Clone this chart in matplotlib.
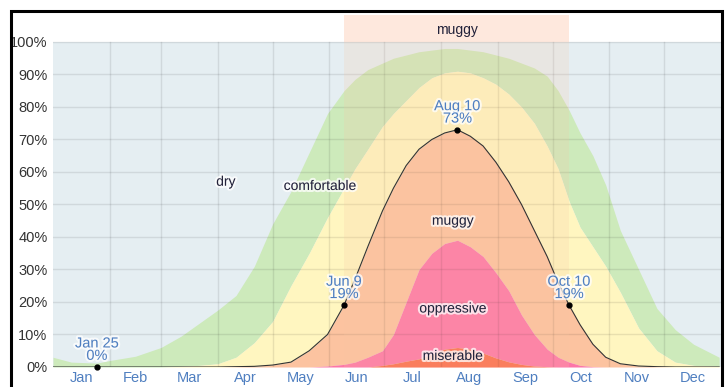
import numpy as np
import matplotlib.pyplot as plt
import matplotlib.patheffects as pe
from matplotlib.patches import Rectangle

plt.rcParams['font.family'] = ['Liberation Sans', 'DejaVu Sans']

# day of year (0 = Jan 1) and cumulative % of time at or above each comfort level
days = [0, 10, 24, 31, 45, 59, 70, 80, 90, 100, 110, 120, 130, 140, 150, 159, 165,
        172, 180, 186, 193, 200, 207, 214, 221, 228, 235, 242, 249, 256, 263, 270,
        276, 282, 288, 295, 302, 310, 320, 330, 340, 350, 364]
comfortable = [3, 1.5, 1.2, 2, 3.3, 6, 9.5, 13.5, 17.5, 22, 31, 44, 54, 66, 78, 85, 88.5,
               91.5, 93.5, 95, 96, 97, 97.5, 98, 98, 97.5, 97, 96, 95, 93.5, 92, 89.5,
               85, 79, 72, 65, 56, 42, 30, 18, 11.5, 7, 3]
humid = [0, 0, 0, 0, 0, 0, 0.2, 0.5, 1, 3, 7.5, 14, 25, 35, 46, 55, 61,
         67, 74, 78, 82, 86, 89, 90.5, 91, 90.5, 89, 87, 84, 80, 75, 68,
         61, 51, 43, 37, 31, 23, 12, 5, 1.5, 0.5, 0.2]
muggy = [0, 0, 0, 0, 0, 0, 0, 0, 0, 0.1, 0.2, 0.6, 1.5, 5, 10, 19, 27,
         37, 48, 55, 62, 67, 70, 72, 73, 71, 68, 63, 57, 50, 42, 34,
         26, 19, 13, 7, 3, 1, 0.3, 0.1, 0, 0, 0]
oppressive = [0, 0, 0, 0, 0, 0, 0, 0, 0, 0, 0, 0, 0, 0, 0.3, 0.8, 1.5,
              3, 5, 10, 20, 30, 35, 38, 39, 37, 34, 29, 23.5, 16, 10, 5.5,
              3, 1.5, 0.5, 0.1, 0, 0, 0, 0, 0, 0, 0]
miserable = [0, 0, 0, 0, 0, 0, 0, 0, 0, 0, 0, 0, 0, 0, 0, 0, 0,
             0, 0.5, 1, 1.8, 2.5, 4, 5.5, 6, 5.5, 4.3, 2.8, 1.6, 0.8, 0.3, 0.1,
             0, 0, 0, 0, 0, 0, 0, 0, 0, 0, 0]

months = ['Jan', 'Feb', 'Mar', 'Apr', 'May', 'Jun', 'Jul', 'Aug', 'Sep', 'Oct', 'Nov', 'Dec']
month_len = [31, 28, 31, 30, 31, 30, 31, 31, 30, 31, 30, 31]

ann_labels = ['Jan 25', 'Jun 9', 'Aug 10', 'Oct 10']
ann_days = [24, 159, 221, 282]
muggy_start, muggy_end = 159, 282

d = np.array(days)
month_start = np.concatenate([[0], np.cumsum(month_len)[:-1]])
month_mid = month_start + np.array(month_len) / 2

fig = plt.figure(figsize=(7.25, 3.87), dpi=100)
ax = fig.add_axes([53 / 725, 1 - 367 / 387, 668 / 725, 352 / 387])
ymax = 108.3
ax.set_xlim(0, 365)
ax.set_ylim(0, ymax)

ax.axhspan(0, 100, color='#e5eef2', zorder=0, lw=0)
layers = [(comfortable, humid, '#cdeabb'), (humid, muggy, '#fff6c0'),
          (muggy, oppressive, '#fcc3a0'), (oppressive, miserable, '#fd75a8'),
          (miserable, np.zeros(len(d)), '#fb6d4c')]
for top, bot, col in layers:
    ax.fill_between(d, bot, top, color=col, lw=0, zorder=1)

# grid on top of the bands
for v in range(10, 101, 10):
    ax.plot([0, 365], [v, v], color='black', alpha=0.09, lw=1, zorder=2)
for m in month_start[1:]:
    ax.plot([m, m], [0, 100], color='black', alpha=0.09, lw=1, zorder=2)

# muggy season
ax.axvspan(muggy_start, muggy_end, ymin=0, ymax=100 / ymax, color='#f9c6a2', alpha=0.2, lw=0, zorder=3)
ax.axvspan(muggy_start, muggy_end, ymin=100 / ymax, ymax=1, color='#fdbf9f', alpha=0.35, lw=0, zorder=3)

ax.plot(d, muggy, color='#333333', lw=0.8, zorder=4)

halo = [pe.withStroke(linewidth=3, foreground='white', alpha=0.75)]
txt_col = '#22223a'
blue = '#4f7fc0'

for lbl, day in zip(ann_labels, ann_days):
    val = muggy[days.index(day)]
    ax.plot(day, val, 'o', color='black', ms=3.5, zorder=6, clip_on=False)
    ax.annotate(f"{lbl}\n{val:.0f}%", (day, val), xytext=(0, 3), textcoords='offset points',
                ha='center', va='bottom', color=blue, fontsize=10.5, linespacing=0.85,
                path_effects=halo, zorder=7)

ax.text((muggy_start + muggy_end) / 2, 103.7, 'muggy', ha='center', va='center',
        color=txt_col, fontsize=10, zorder=7)
for s, x, y in [('dry', 94.5, 57), ('comfortable', 146, 55.7), ('muggy', 218.5, 45),
                ('oppressive', 218.5, 18), ('miserable', 218.5, 3.4)]:
    ax.text(x, y, s, ha='center', va='center', color=txt_col, fontsize=10,
            path_effects=halo, zorder=7)

ax.set_yticks(range(0, 101, 10))
ax.set_yticklabels([f"{v}%" for v in range(0, 101, 10)], color='#333333', fontsize=10.5)
ax.set_xticks(month_mid)
ax.set_xticklabels(months, color=blue, fontsize=10.5)
ax.tick_params(length=0, pad=3)
ax.tick_params(axis='y', pad=4)
for s in ax.spines.values():
    s.set_visible(False)
ax.set_facecolor('white')

fig.patches.append(Rectangle((11 / 725, -0.1), 711 / 725, 1.1 - 11 / 387, transform=fig.transFigure,
                             fill=False, ec='black', lw=2.2, zorder=10))

fig.savefig('out.png', dpi=100)
